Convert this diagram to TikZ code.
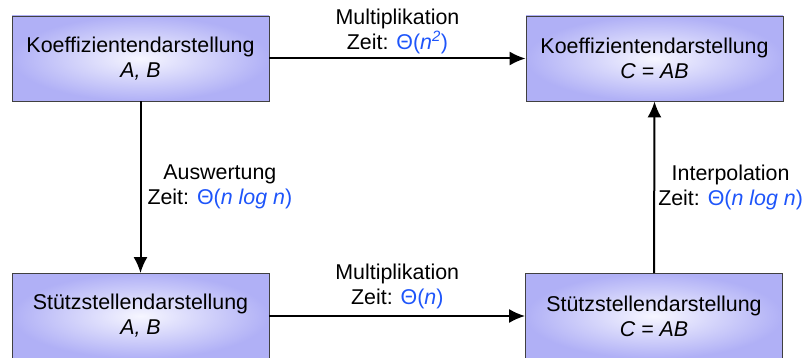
\documentclass[tikz,border=0pt]{standalone}
\usepackage{fontspec}
\setmainfont{Liberation Sans}
\usetikzlibrary{arrows.meta}
\definecolor{boxrim}{RGB}{176,176,246}
\definecolor{boxmid}{RGB}{246,246,255}
\definecolor{zeitblue}{RGB}{30,85,250}
\def\zeit#1{Zeit: \textcolor{zeitblue}{Θ(#1)}}
\tikzset{
	darst/.style={draw=black!75, line width=0.8pt, inner color=boxmid, outer color=boxrim,
		minimum width=257pt, minimum height=85pt, align=center, font=\fontsize{21.4}{25}\selectfont},
	pfeil/.style={line width=2pt, -{Latex[length=16pt,width=14pt]}},
	schritt/.style={align=center, inner sep=1pt, font=\fontsize{21.4}{25}\selectfont}
}
\begin{document}
\begin{tikzpicture}[x=1pt,y=-1pt]
		%%%%% START %%%%%
		\useasboundingbox (0, 0) rectangle (805, 358);
		
		\node[darst] (koeffAB) at (140.5, 58.5) {Koeffizientendarstellung\\\textit{A, B}};
		\node[darst] (koeffC) at (654.5, 58.5) {Koeffizientendarstellung\\\textit{C = AB}};
		\node[darst] (stuetzAB) at (140.5, 316) {Stützstellendarstellung\\\textit{A, B}};
		\node[darst] (stuetzC) at (654, 316) {Stützstellendarstellung\\\textit{C = AB}};
		
		\draw[pfeil] (koeffAB.east) -- node[schritt, above=3pt] (multkoeff) {Multiplikation\\\zeit{\textit{n}\textsuperscript{\textit{2}}}} (koeffC.west);
		\draw[pfeil] (koeffAB.south) -- node[schritt, right=5pt] (auswertung) {Auswertung\\\zeit{\textit{n log n}}} (stuetzAB.north);
		\draw[pfeil] (stuetzAB.east) -- node[schritt, above=5pt] (multstuetz) {Multiplikation\\\zeit{\textit{n}}} (stuetzC.west);
		\draw[pfeil] (stuetzC.north) -- node[schritt, right=2pt] (interpolation) {Interpolation\\\zeit{\textit{n log n}}} (koeffC.south);
		
		%%%%% END %%%%%
	\end{tikzpicture}
\end{document}
